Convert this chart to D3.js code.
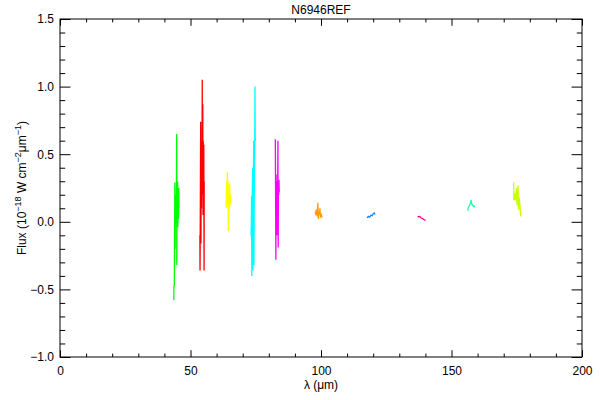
<!DOCTYPE html>
<html>
<head>
<meta charset="utf-8">
<script src="https://cdn.jsdelivr.net/npm/d3@7"></script>
<style>
  body { margin: 0; background: #fff; }
  svg { display: block; }
  text { font-family: "Liberation Sans", Arial, sans-serif; fill: #000; }
</style>
</head>
<body>
<script>
// Data: wavelength (um) and flux (1e-18 W cm-2 um-1) for each band segment

const greenLam = [43.6, 43.65, 43.8, 44.0, 44.1, 44.2, 44.3, 44.4, 44.5, 44.6, 44.7, 44.75, 44.85, 44.95, 45.05, 45.15, 45.25, 45.4, 45.5, 45.6]
const greenFlux = [-0.58, -0.48, -0.47, 0.29, -0.2, 0.2, 0.05, 0.18, -0.02, 0.1, 0.65, -0.32, 0.15, 0.0, 0.3, -0.04, 0.2, 0.02, 0.25, 0.1]

const redLam = [53.6, 53.65, 53.7, 53.9, 54.0, 54.1, 54.2, 54.3, 54.4, 54.5, 54.55, 54.7, 54.8, 54.9, 55.0, 55.1, 55.2, 55.25]
const redFlux = [-0.1, -0.36, -0.2, 0.74, -0.16, 0.5, 0.1, 0.6, 0.2, 1.05, 0.25, 0.87, 0.05, 0.6, 0.15, 0.57, -0.36, 0.3]

const yellowLam = [63.6, 63.7, 63.8, 64.0, 64.1, 64.3, 64.4, 64.5, 64.6, 64.8, 65.0, 65.2, 65.4]
const yellowFlux = [0.15, 0.1, 0.3, 0.14, 0.37, 0.12, 0.3, -0.07, 0.25, 0.08, 0.28, 0.12, 0.2]

const cyanLam = [73.2, 73.25, 73.4, 73.5, 73.6, 73.8, 73.9, 74.1, 74.2, 74.3, 74.5, 74.6, 74.7, 74.8, 74.9]
const cyanFlux = [-0.06, -0.11, 0.19, -0.4, 0.1, 0.4, -0.36, 0.3, 0.6, -0.32, 0.45, 0.6, 1.0, 0.6, 0.62]

const magentaLam = [82.5, 82.55, 82.7, 82.8, 82.9, 83.0, 83.1, 83.2, 83.3, 83.5, 83.6, 83.7, 83.8, 83.9, 84.0]
const magentaFlux = [0.61, 0.41, -0.28, 0.35, -0.1, 0.3, 0.05, 0.25, -0.1, 0.6, -0.19, 0.3, 0.2, 0.31, 0.22]

const orangeLam = [97.7, 97.9, 98.2, 98.5, 98.8, 99.0, 99.2, 99.4, 99.6, 99.8, 100.1, 100.4]
const orangeFlux = [0.07, 0.06, 0.09, 0.04, 0.14, 0.02, 0.08, 0.05, 0.1, 0.03, 0.06, 0.03]

const blueLam = [117.6, 118.2, 118.6, 119.2, 119.6, 120.0, 120.4, 120.7]
const blueFlux = [0.03, 0.04, 0.035, 0.05, 0.045, 0.06, 0.065, 0.055]

const pinkLam = [137.0, 137.4, 137.8, 138.3, 138.7, 139.2, 139.6, 140.1]
const pinkFlux = [0.04, 0.035, 0.04, 0.03, 0.025, 0.02, 0.015, 0.01]

const tealLam = [156.2, 156.5, 156.9, 157.3, 157.5, 157.8, 158.2, 158.6, 159.0]
const tealFlux = [0.08, 0.11, 0.12, 0.14, 0.16, 0.13, 0.12, 0.11, 0.12]

const limeLam = [173.8, 173.9, 174.2, 174.4, 174.7, 174.9, 175.1, 175.3, 175.5, 175.7, 175.9, 176.2, 176.5]
const limeFlux = [0.29, 0.16, 0.21, 0.16, 0.19, 0.25, 0.12, 0.18, 0.27, 0.09, 0.18, 0.13, 0.04]

const xTicks = [0, 50, 100, 150, 200]
const yTicks = [-1.0, -0.5, 0.0, 0.5, 1.0, 1.5]

const segments = [
  { lam: greenLam, flux: greenFlux, color: "#00ff00" },
  { lam: redLam, flux: redFlux, color: "#ff0000" },
  { lam: yellowLam, flux: yellowFlux, color: "#ffff00" },
  { lam: cyanLam, flux: cyanFlux, color: "#00ffff" },
  { lam: magentaLam, flux: magentaFlux, color: "#ff00ff" },
  { lam: orangeLam, flux: orangeFlux, color: "#ff9c00" },
  { lam: blueLam, flux: blueFlux, color: "#0a8cff" },
  { lam: pinkLam, flux: pinkFlux, color: "#ff0a8c" },
  { lam: tealLam, flux: tealFlux, color: "#14ffaa" },
  { lam: limeLam, flux: limeFlux, color: "#c8ff00" },
]

// Dimensions
const width = 600
const height = 400
const margin = { top: 19, right: 18, bottom: 43, left: 60 }
const plotWidth = width - margin.left - margin.right
const plotHeight = height - margin.top - margin.bottom

const svg = d3.select("body")
  .append("svg")
  .attr("width", width)
  .attr("height", height)

svg.append("rect")
  .attr("width", width)
  .attr("height", height)
  .attr("fill", "#fff")

const plot = svg.append("g")
  .attr("transform", `translate(${margin.left}, ${margin.top})`)

const x = d3.scaleLinear().domain([0, 200]).range([0, plotWidth])
const y = d3.scaleLinear().domain([-1, 1.5]).range([plotHeight, 0])

const xMinor = d3.range(0, 201, 10).filter(v => v % 50 !== 0)
const yMinor = d3.range(-10, 16, 1).map(v => v / 10).filter(v => Math.round(v * 10) % 5 !== 0)

const xLen = 0.02 * plotHeight
const yLen = 0.02 * plotWidth

const fmtY = d => d3.format(".1f")(d).replace("-", "\u2212")

// Axes: ticks point inward on all four sides
const addAxis = (axis, transform) => {
  const g = plot.append("g")
    .attr("transform", transform)
    .call(axis)
  g.select(".domain").remove()
  g.selectAll("line").attr("stroke", "#000")
  g.selectAll("text").style("font-size", "12px").attr("fill", "#000")
  return g
}

addAxis(d3.axisBottom(x).tickValues(xTicks).tickSize(-xLen).tickPadding(9).tickFormat(d3.format("d")), `translate(0, ${plotHeight})`)
addAxis(d3.axisBottom(x).tickValues(xMinor).tickSize(-xLen / 2).tickFormat(""), `translate(0, ${plotHeight})`)
addAxis(d3.axisTop(x).tickValues(xTicks).tickSize(-xLen).tickFormat(""), "translate(0, 0)")
addAxis(d3.axisTop(x).tickValues(xMinor).tickSize(-xLen / 2).tickFormat(""), "translate(0, 0)")

addAxis(d3.axisLeft(y).tickValues(yTicks).tickSize(-yLen).tickPadding(6).tickFormat(fmtY), "translate(0, 0)")
addAxis(d3.axisLeft(y).tickValues(yMinor).tickSize(-yLen / 2).tickFormat(""), "translate(0, 0)")
addAxis(d3.axisRight(y).tickValues(yTicks).tickSize(-yLen).tickFormat(""), `translate(${plotWidth}, 0)`)
addAxis(d3.axisRight(y).tickValues(yMinor).tickSize(-yLen / 2).tickFormat(""), `translate(${plotWidth}, 0)`)

// Frame
plot.append("rect")
  .attr("width", plotWidth)
  .attr("height", plotHeight)
  .attr("fill", "none")
  .attr("stroke", "#000")

// Spectra
const line = d3.line()
  .x(d => x(d[0]))
  .y(d => y(d[1]))

plot.append("g")
  .selectAll("path")
  .data(segments)
  .join("path")
  .attr("d", s => line(s.lam.map((l, i) => [l, s.flux[i]])))
  .attr("fill", "none")
  .attr("stroke", s => s.color)
  .attr("stroke-width", 1.3)

// Title
svg.append("text")
  .attr("x", margin.left + plotWidth / 2)
  .attr("y", 14)
  .attr("text-anchor", "middle")
  .style("font-size", "12px")
  .text("N6946REF")

// X label
svg.append("text")
  .attr("x", margin.left + plotWidth / 2)
  .attr("y", 389)
  .attr("text-anchor", "middle")
  .style("font-size", "12px")
  .text("\u03bb (\u03bcm)")

// Y label
const yLabel = svg.append("text")
  .attr("transform", `translate(26, ${margin.top + plotHeight / 2}) rotate(-90)`)
  .attr("text-anchor", "middle")
  .style("font-size", "12px")

yLabel.append("tspan").text("Flux (10")
yLabel.append("tspan").attr("dy", -5).style("font-size", "9px").text("\u221218")
yLabel.append("tspan").attr("dy", 5).text(" W cm")
yLabel.append("tspan").attr("dy", -5).style("font-size", "9px").text("\u22122")
yLabel.append("tspan").attr("dy", 5).text("\u03bcm")
yLabel.append("tspan").attr("dy", -5).style("font-size", "9px").text("\u22121")
yLabel.append("tspan").attr("dy", 5).text(")")
</script>
</body>
</html>
